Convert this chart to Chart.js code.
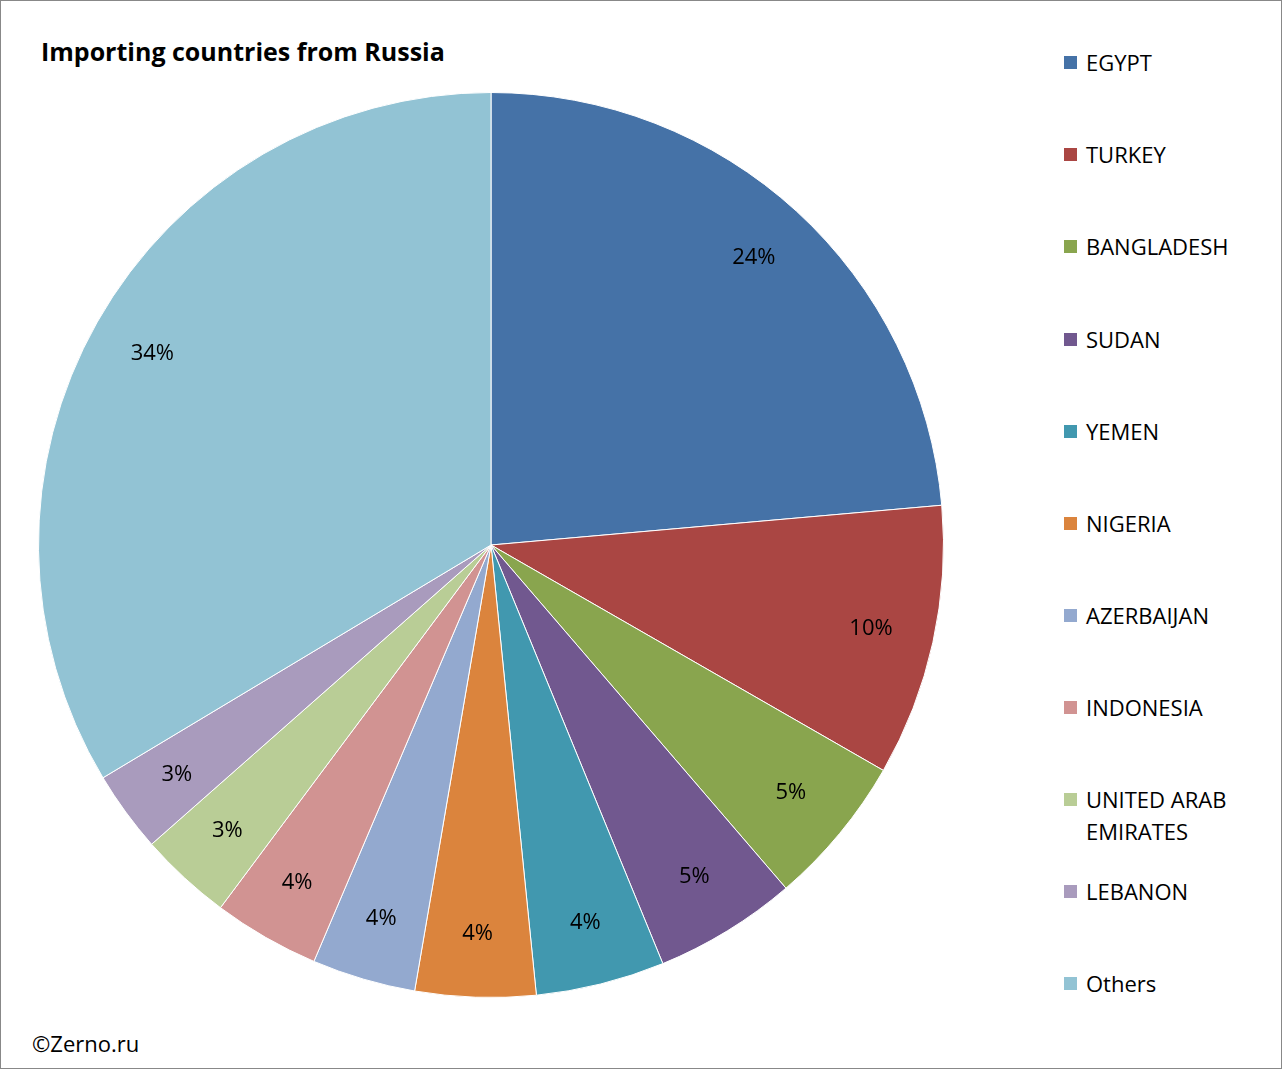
<!DOCTYPE html>
<html><head><meta charset="utf-8">
<script src="https://cdn.jsdelivr.net/npm/chart.js@4"></script>
<style>
body{margin:0;width:1282px;height:1069px;background:#fff;font-family:"Liberation Sans","DejaVu Sans",sans-serif;}
#frame{position:absolute;left:0;top:0;width:1280px;height:1067px;border:1px solid #888;}
#title{position:absolute;left:41px;top:34px;font-size:25px;font-weight:bold;color:#000;font-family:"Open Sans",sans-serif;}
#wrap{position:absolute;left:36px;top:90px;width:910px;height:910px;}
#legend{position:absolute;left:1064px;top:0;}
.li{position:absolute;font-size:22px;white-space:nowrap;line-height:32px;font-family:"Open Sans",sans-serif;}
.sw{position:absolute;left:0;width:13px;height:13px;}
.tx{position:absolute;left:22px;}
#src{position:absolute;left:32px;top:1028px;font-size:22px;font-family:"Open Sans",sans-serif;}
</style></head><body>
<div id="frame"></div>
<div id="title">Importing countries from Russia</div>
<div id="wrap"><canvas id="c"></canvas></div>
<div id="legend"></div>
<div id="src">©Zerno.ru</div>
<script>
const categories=["EGYPT","TURKEY","BANGLADESH","SUDAN","YEMEN","NIGERIA","AZERBAIJAN","INDONESIA","UNITED ARAB EMIRATES","LEBANON","Others"];
const values=[23.6,9.7,5.4,5.1,4.6,4.3,3.7,3.8,3.3,2.9,33.6];
const labels=["24%","10%","5%","5%","4%","4%","4%","4%","3%","3%","34%"];
const colors=["#4572A7","#AA4643","#89A54E","#71588F","#4198AF","#DB843D","#93A9CF","#D19392","#B9CD96","#A99BBD","#92C3D4"];
const legendTops=[46,138,230,323,415,507,599,691,783,875,967];
const lg=document.getElementById('legend');
categories.forEach((c,i)=>{
  const d=document.createElement('div');d.className='li';d.style.top=legendTops[i]+'px';
  let t=c==="UNITED ARAB EMIRATES"?"UNITED ARAB<br>EMIRATES":c;
  d.innerHTML='<div class="sw" style="top:10px;background:'+colors[i]+'"></div><div class="tx">'+t+'</div>';
  lg.appendChild(d);
});
const lblPlugin={id:'lbl',afterDatasetsDraw(ch){
  const ctx=ch.ctx;const meta=ch.getDatasetMeta(0);
  ctx.save();ctx.font='22px "Open Sans", sans-serif';ctx.fillStyle='#000';ctx.textAlign='center';ctx.textBaseline='middle';
  meta.data.forEach((a,i)=>{
    const ang=(a.startAngle+a.endAngle)/2;const r=a.outerRadius*0.86;
    ctx.fillText(labels[i],a.x+Math.cos(ang)*r,a.y+Math.sin(ang)*r);
  });ctx.restore();}};
new Chart(document.getElementById('c'),{type:'pie',
 data:{labels:categories,datasets:[{data:values,backgroundColor:colors,borderColor:'#fff',borderWidth:1}]},
 options:{responsive:true,maintainAspectRatio:false,animation:false,layout:{padding:2},
  plugins:{legend:{display:false},tooltip:{enabled:false}}},
 plugins:[lblPlugin]});
</script>
</body></html>
